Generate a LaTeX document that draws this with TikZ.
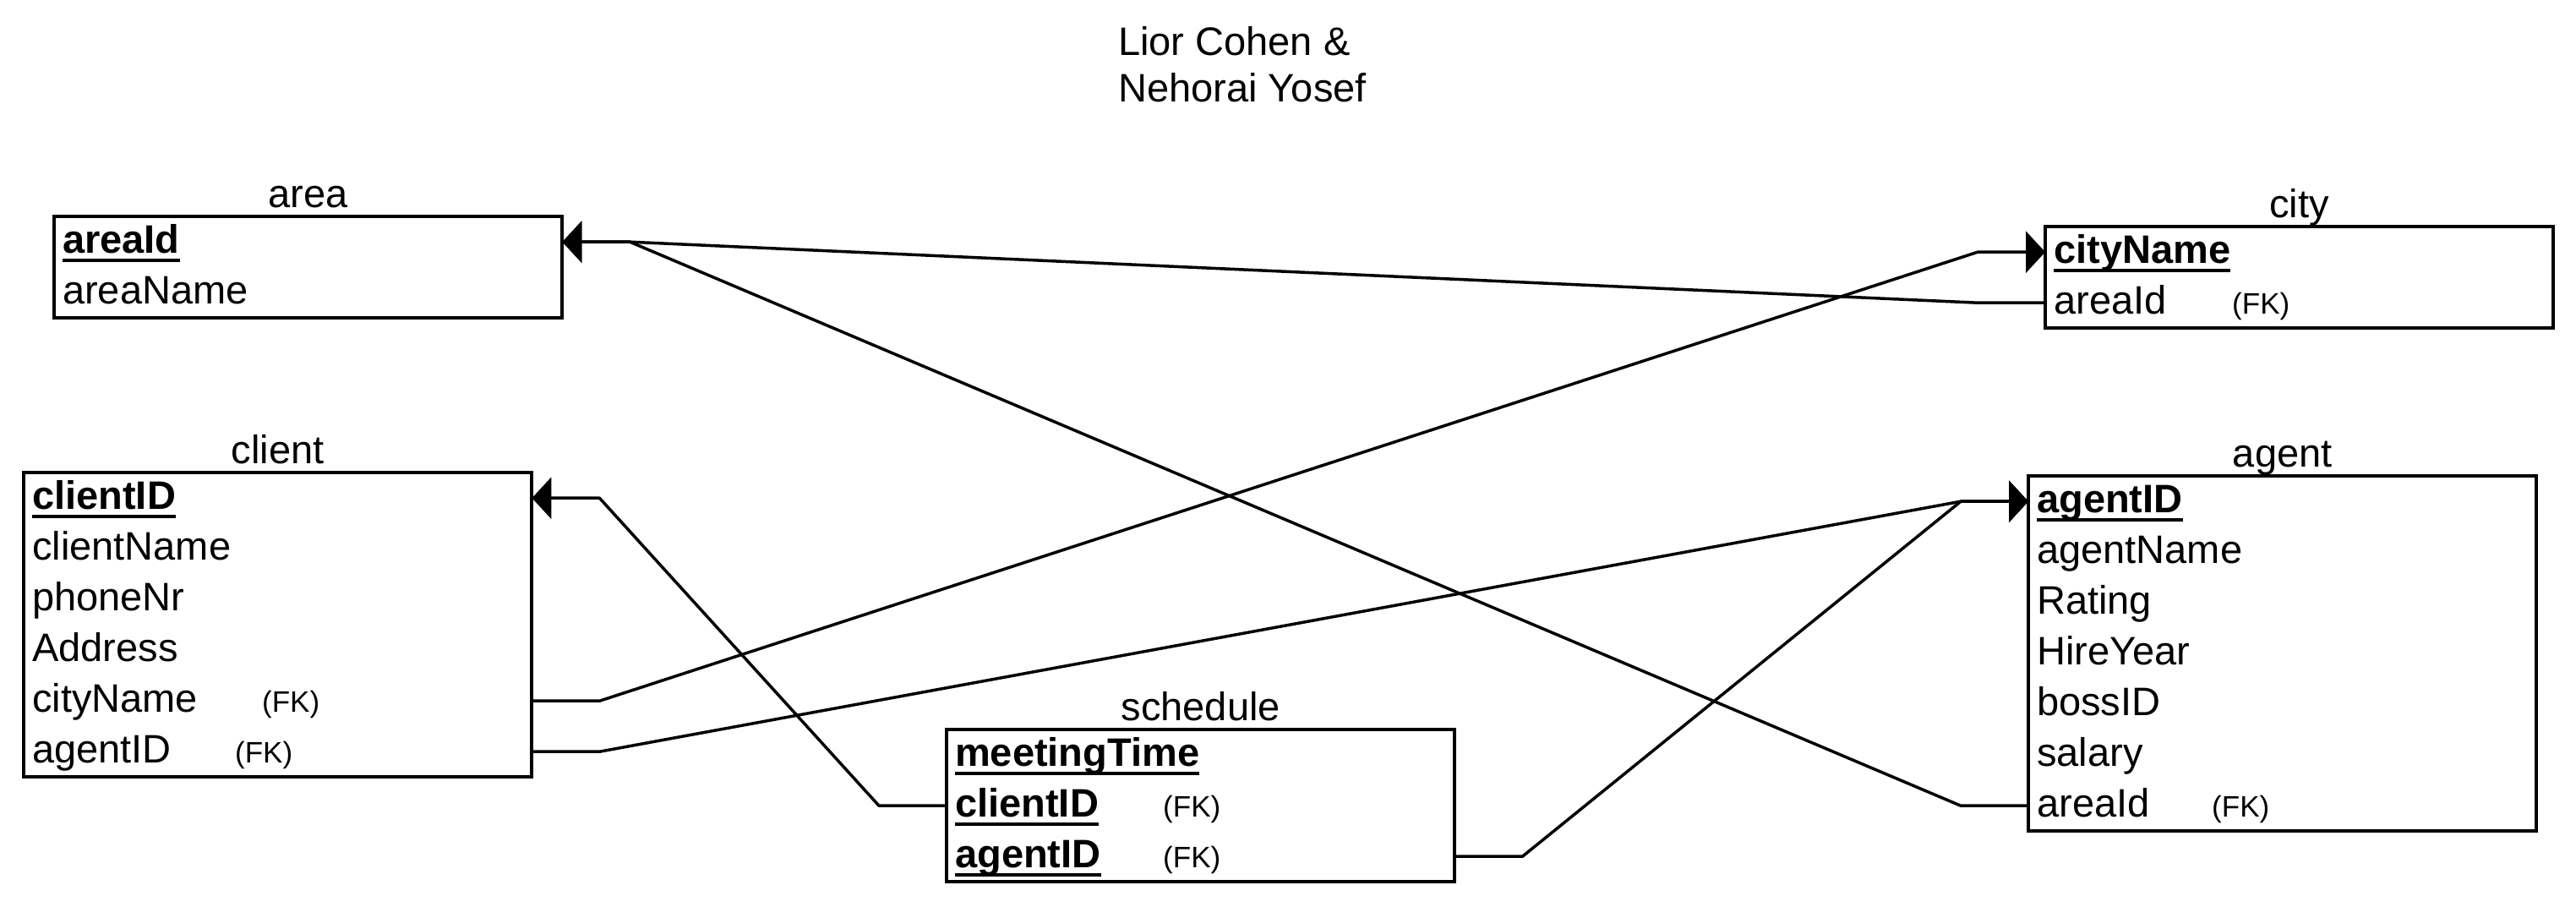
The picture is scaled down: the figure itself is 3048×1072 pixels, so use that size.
\documentclass[tikz,border=0pt]{standalone}
\usepackage{fontspec}
\setmainfont{Liberation Sans}
\usetikzlibrary{arrows.meta,calc,fit}
\newcommand\pkul[1]{\setbox0\hbox{\textbf{#1}}\rlap{\rule[-11pt]{\wd0}{4pt}}\box0}
\newcommand\fk{{\fontsize{35}{40}\selectfont (FK)}}
\newcommand\colfk[2]{\makebox[#1][l]{#2}\fk}
\tikzset{
  erow/.style={anchor=north west, minimum width=601pt, minimum height=60pt,
    inner xsep=10pt, inner ysep=0pt, text width=581pt, align=left,
    text height=34pt, text depth=8pt, font=\fontsize{47}{55}\selectfont},
  ebox/.style={draw, line width=4pt, inner sep=0pt},
  tlabel/.style={anchor=base, font=\fontsize{47}{55}\selectfont, inner sep=0pt},
  ttext/.style={anchor=base west, font=\fontsize{47}{55}\selectfont, inner sep=0pt},
  conn/.style={line width=3.5pt, line join=round, -{Triangle[length=23pt,width=49pt]}}
}
\begin{document}
\begin{tikzpicture}[x=1pt,y=-1pt]
\useasboundingbox (0,0) rectangle (3048,1072);
% title
\node[ttext] (t1) at (1323,65) {Lior Cohen \&};
\node[ttext] (t2) at (1323,120) {Nehorai Yosef};
% area
\node[erow] (area-1) at (64,256) {\pkul{areaId}};
\node[erow] (area-2) at (64,316) {areaName};
\node[ebox, fit=(area-1)(area-2)] (area) {};
\node[tlabel] (area-t) at ($(area.north)+(0,-9)$) {area};
% city
\node[erow] (city-1) at (2420,268) {\pkul{cityName}};
\node[erow] (city-2) at (2420,328) {\colfk{211pt}{areaId}};
\node[ebox, fit=(city-1)(city-2)] (city) {};
\node[tlabel] (city-t) at ($(city.north)+(0,-9)$) {city};
% client
\node[erow] (client-1) at (28,559) {\pkul{clientID}};
\node[erow] (client-2) at (28,619) {clientName};
\node[erow] (client-3) at (28,679) {phoneNr};
\node[erow] (client-4) at (28,739) {Address};
\node[erow] (client-5) at (28,799) {\colfk{272pt}{cityName}};
\node[erow] (client-6) at (28,859) {\colfk{240pt}{agentID}};
\node[ebox, fit=(client-1)(client-6)] (client) {};
\node[tlabel] (client-t) at ($(client.north)+(0,-9)$) {client};
% agent
\node[erow] (agent-1) at (2400,563) {\pkul{agentID}};
\node[erow] (agent-2) at (2400,623) {agentName};
\node[erow] (agent-3) at (2400,683) {Rating};
\node[erow] (agent-4) at (2400,743) {HireYear};
\node[erow] (agent-5) at (2400,803) {bossID};
\node[erow] (agent-6) at (2400,863) {salary};
\node[erow] (agent-7) at (2400,923) {\colfk{207pt}{areaId}};
\node[ebox, fit=(agent-1)(agent-7)] (agent) {};
\node[tlabel] (agent-t) at ($(agent.north)+(0,-9)$) {agent};
% schedule
\node[erow] (sched-1) at (1120,863) {\pkul{meetingTime}};
\node[erow] (sched-2) at (1120,923) {\colfk{246pt}{\pkul{clientID}}};
\node[erow] (sched-3) at (1120,983) {\colfk{246pt}{\pkul{agentID}}};
\node[ebox, fit=(sched-1)(sched-3)] (sched) {};
\node[tlabel] (sched-t) at ($(sched.north)+(0,-9)$) {schedule};
% connectors
\draw[conn] (city-2.west) -- ++(-80,0) -- ($(area-1.east)+(80,0)$) -- (area-1.east);
\draw[conn] (agent-7.west) -- ++(-80,0) -- ($(area-1.east)+(80,0)$) -- (area-1.east);
\draw[conn] (client-5.east) -- ++(80,0) -- ($(city-1.west)+(-80,0)$) -- (city-1.west);
\draw[conn] (client-6.east) -- ++(80,0) -- ($(agent-1.west)+(-80,0)$) -- (agent-1.west);
\draw[conn] (sched-3.east) -- ++(80,0) -- ($(agent-1.west)+(-80,0)$) -- (agent-1.west);
\draw[conn] (sched-2.west) -- ++(-80,0) -- ($(client-1.east)+(80,0)$) -- (client-1.east);
\end{tikzpicture}
\end{document}
